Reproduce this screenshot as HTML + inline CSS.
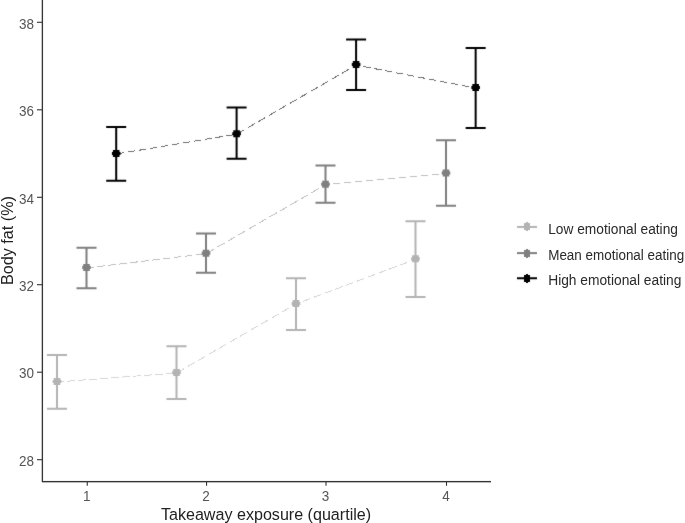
<!DOCTYPE html>
<html><head><meta charset="utf-8"><style>
html,body{margin:0;padding:0;background:#fff;}
body{width:685px;height:523px;overflow:hidden;}
svg{display:block;}
text{font-family:"Liberation Sans",sans-serif;}
.ax{font-size:14.2px;fill:#555555;}
.tt{font-size:17px;fill:#222222;}
.lg{font-size:14.5px;fill:#2a2a2a;}
</style></head><body>
<svg width="685" height="523" viewBox="0 0 685 523">
<defs><filter id="b" color-interpolation-filters="sRGB" filterUnits="userSpaceOnUse" x="-10" y="-10" width="705" height="543"><feConvolveMatrix order="3" kernelMatrix="0.015 0.06 0.015 0.06 0.7 0.06 0.015 0.06 0.015" divisor="1" edgeMode="none" preserveAlpha="false"/></filter></defs>
<rect x="0" y="0" width="685" height="523" fill="#fff"/>
<g filter="url(#b)">
<path d="M57.0,382.00 L176.5,373.00" fill="none" stroke="#D5D5D5" stroke-width="1.0" stroke-dasharray="7.515 3.507" stroke-dashoffset="0.601" shape-rendering="crispEdges"/>
<path d="M176.5,373.00 L296.0,303.95" fill="none" stroke="#D5D5D5" stroke-width="1.0" stroke-dasharray="8.241 3.846" stroke-dashoffset="11.215" shape-rendering="crispEdges"/>
<path d="M296.0,303.95 L415.5,259.30" fill="none" stroke="#D5D5D5" stroke-width="1.0" stroke-dasharray="7.837 3.657" stroke-dashoffset="3.978" shape-rendering="crispEdges"/>
<path d="M86.5,268.00 L206.0,253.70" fill="none" stroke="#C0C0C0" stroke-width="1.0" stroke-dasharray="7.537 3.517" stroke-dashoffset="0.301" shape-rendering="crispEdges"/>
<path d="M206.0,253.70 L325.5,184.70" fill="none" stroke="#C0C0C0" stroke-width="1.0" stroke-dasharray="8.240 3.846" stroke-dashoffset="11.062" shape-rendering="crispEdges"/>
<path d="M325.5,184.70 L446.0,173.50" fill="none" stroke="#C0C0C0" stroke-width="1.0" stroke-dasharray="7.522 3.510" stroke-dashoffset="3.671" shape-rendering="crispEdges"/>
<path d="M116.2,154.00 L236.6,134.20" fill="none" stroke="#707070" stroke-width="1.0" stroke-dasharray="7.569 3.532" stroke-dashoffset="10.394" shape-rendering="crispEdges"/>
<path d="M236.6,134.20 L356.1,65.10" fill="none" stroke="#707070" stroke-width="1.0" stroke-dasharray="8.242 3.846" stroke-dashoffset="11.220" shape-rendering="crispEdges"/>
<path d="M356.1,65.10 L475.65,88.00" fill="none" stroke="#707070" stroke-width="1.0" stroke-dasharray="7.593 3.543" stroke-dashoffset="3.866" shape-rendering="crispEdges"/>
<path d="M47.0,355.0 H67.0 M57.0,355.0 V408.7 M47.0,408.7 H67.0" fill="none" stroke="#B3B3B3" stroke-width="2"/>
<path d="M53.70,378.00h6.6v7.0h-6.6z M52.70,380.00h8.6v3.0h-8.6z" fill="#B3B3B3"/>
<path d="M166.5,346.2 H186.5 M176.5,346.2 V399.0 M166.5,399.0 H186.5" fill="none" stroke="#B3B3B3" stroke-width="2"/>
<path d="M173.20,369.00h6.6v7.0h-6.6z M172.20,371.00h8.6v3.0h-8.6z" fill="#B3B3B3"/>
<path d="M286.0,278.2 H306.0 M296.0,278.2 V330.0 M286.0,330.0 H306.0" fill="none" stroke="#B3B3B3" stroke-width="2"/>
<path d="M292.70,299.95h6.6v7.0h-6.6z M291.70,301.95h8.6v3.0h-8.6z" fill="#B3B3B3"/>
<path d="M405.5,221.25 H425.5 M415.5,221.25 V297.0 M405.5,297.0 H425.5" fill="none" stroke="#B3B3B3" stroke-width="2"/>
<path d="M412.20,255.30h6.6v7.0h-6.6z M411.20,257.30h8.6v3.0h-8.6z" fill="#B3B3B3"/>
<path d="M76.5,247.8 H96.5 M86.5,247.8 V288.2 M76.5,288.2 H96.5" fill="none" stroke="#7F7F7F" stroke-width="2"/>
<path d="M83.20,264.00h6.6v7.0h-6.6z M82.20,266.00h8.6v3.0h-8.6z" fill="#7F7F7F"/>
<path d="M196.0,233.4 H216.0 M206.0,233.4 V272.7 M196.0,272.7 H216.0" fill="none" stroke="#7F7F7F" stroke-width="2"/>
<path d="M202.70,249.70h6.6v7.0h-6.6z M201.70,251.70h8.6v3.0h-8.6z" fill="#7F7F7F"/>
<path d="M315.5,165.45 H335.5 M325.5,165.45 V202.8 M315.5,202.8 H335.5" fill="none" stroke="#7F7F7F" stroke-width="2"/>
<path d="M322.20,180.70h6.6v7.0h-6.6z M321.20,182.70h8.6v3.0h-8.6z" fill="#7F7F7F"/>
<path d="M436.0,140.2 H456.0 M446.0,140.2 V205.8 M436.0,205.8 H456.0" fill="none" stroke="#7F7F7F" stroke-width="2"/>
<path d="M442.70,169.50h6.6v7.0h-6.6z M441.70,171.50h8.6v3.0h-8.6z" fill="#7F7F7F"/>
<path d="M106.2,126.9 H126.2 M116.2,126.9 V180.85 M106.2,180.85 H126.2" fill="none" stroke="#000000" stroke-width="2"/>
<path d="M112.90,150.00h6.6v7.0h-6.6z M111.90,152.00h8.6v3.0h-8.6z" fill="#000000"/>
<path d="M226.6,107.45 H246.6 M236.6,107.45 V158.85 M226.6,158.85 H246.6" fill="none" stroke="#000000" stroke-width="2"/>
<path d="M233.30,130.20h6.6v7.0h-6.6z M232.30,132.20h8.6v3.0h-8.6z" fill="#000000"/>
<path d="M346.1,39.4 H366.1 M356.1,39.4 V89.95 M346.1,89.95 H366.1" fill="none" stroke="#000000" stroke-width="2"/>
<path d="M352.80,61.10h6.6v7.0h-6.6z M351.80,63.10h8.6v3.0h-8.6z" fill="#000000"/>
<path d="M465.65,48.05 H485.65 M475.65,48.05 V128.1 M465.65,128.1 H485.65" fill="none" stroke="#000000" stroke-width="2"/>
<path d="M472.35,84.00h6.6v7.0h-6.6z M471.35,86.00h8.6v3.0h-8.6z" fill="#000000"/>
<path d="M517,226.95 H537" stroke="#B3B3B3" stroke-width="2"/>
<path d="M524,223.0h6v7h-6z M526,222.0h2v9h-2z" fill="#B3B3B3" shape-rendering="crispEdges"/>
<path d="M517,253.1 H537" stroke="#7F7F7F" stroke-width="2"/>
<path d="M524,250.0h6v7h-6z M526,249.0h2v9h-2z" fill="#7F7F7F" shape-rendering="crispEdges"/>
<path d="M517,278.25 H537" stroke="#000000" stroke-width="2"/>
<path d="M524,275.0h6v7h-6z M526,274.0h2v9h-2z" fill="#000000" shape-rendering="crispEdges"/>
</g>
<rect x="41" y="0" width="1" height="482" fill="#c4c4c4"/>
<rect x="43" y="0" width="1" height="481" fill="#f2f2f2"/>
<rect x="42" y="480" width="449" height="1" fill="#f2f2f2"/>
<rect x="42" y="482" width="449" height="1" fill="#b8b8b8"/>
<path d="M37,22.30 H42" stroke="#333" stroke-width="1.1"/>
<path d="M37,109.80 H42" stroke="#333" stroke-width="1.1"/>
<path d="M37,197.30 H42" stroke="#333" stroke-width="1.1"/>
<path d="M37,284.70 H42" stroke="#333" stroke-width="1.1"/>
<path d="M37,372.20 H42" stroke="#333" stroke-width="1.1"/>
<path d="M37,459.70 H42" stroke="#333" stroke-width="1.1"/>
<path d="M87.25,482 V485.8" stroke="#333" stroke-width="1.1"/>
<path d="M206.55,482 V485.8" stroke="#333" stroke-width="1.1"/>
<path d="M326.0,482 V485.8" stroke="#333" stroke-width="1.1"/>
<path d="M446.5,482 V485.8" stroke="#333" stroke-width="1.1"/>
<rect x="42" y="0" width="1" height="482" fill="#383838"/>
<rect x="42" y="481" width="449" height="1" fill="#363636"/>
<text transform="translate(34.0,28.50) scale(0.95,1)" text-anchor="end" class="ax">38</text>
<text transform="translate(34.0,116.00) scale(0.95,1)" text-anchor="end" class="ax">36</text>
<text transform="translate(34.0,203.50) scale(0.95,1)" text-anchor="end" class="ax">34</text>
<text transform="translate(34.0,290.90) scale(0.95,1)" text-anchor="end" class="ax">32</text>
<text transform="translate(34.0,378.40) scale(0.95,1)" text-anchor="end" class="ax">30</text>
<text transform="translate(34.0,465.90) scale(0.95,1)" text-anchor="end" class="ax">28</text>
<text transform="translate(86.65,501.1) scale(0.95,1)" text-anchor="middle" class="ax">1</text>
<text transform="translate(205.95,501.1) scale(0.95,1)" text-anchor="middle" class="ax">2</text>
<text transform="translate(325.40,501.1) scale(0.95,1)" text-anchor="middle" class="ax">3</text>
<text transform="translate(445.90,501.1) scale(0.95,1)" text-anchor="middle" class="ax">4</text>
<text transform="translate(266.0,519.8) scale(0.947,1)" text-anchor="middle" class="tt">Takeaway exposure (quartile)</text>
<text transform="translate(13.4,240.55) rotate(-90) scale(0.952,1)" text-anchor="middle" class="tt">Body fat (%)</text>
<text transform="translate(548.2,234.15) scale(0.948,1)" class="lg">Low emotional eating</text>
<text transform="translate(548.2,260.0) scale(0.928,1)" class="lg">Mean emotional eating</text>
<text transform="translate(548.2,285.45) scale(0.951,1)" class="lg">High emotional eating</text>
</svg>
</body></html>
